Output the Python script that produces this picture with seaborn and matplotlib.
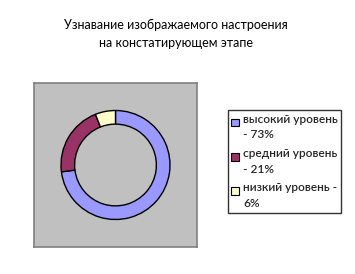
import matplotlib
matplotlib.use("Agg")
import matplotlib.pyplot as plt
import seaborn as sns
from matplotlib.patches import Patch, Rectangle
from matplotlib.legend_handler import HandlerPatch

categories = ["высокий уровень", "средний уровень", "низкий уровень"]
values = [73, 21, 6]
legend_labels = ["высокий уровень\n- 73%", "средний уровень\n- 21%", "низкий уровень -\n6%"]
colors = ["#9999FF", "#993366", "#FFFFCC"]
title = "Узнавание изображаемого настроения\nна констатирующем этапе"

sns.set_theme(style="white")
plt.rcParams["font.family"] = ["Lato", "DejaVu Sans"]

W, H = 355, 274
fig = plt.figure(figsize=(W / 100, H / 100), dpi=100)
fig.patch.set_facecolor("white")

# plot area
l, r, t, b = 34, 197, 83, 247
ax = fig.add_axes([l / W, 1 - b / H, (r - l) / W, (b - t) / H])
ax.set_facecolor("#C0C0C0")

palette = sns.color_palette(colors)
ax.pie(values, colors=palette, startangle=90, counterclock=False, radius=1.0,
       wedgeprops=dict(width=0.25, edgecolor="black", linewidth=1.0), frame=True)
R = 54.5
ax.set_xlim(-(r - l) / 2 / R, (r - l) / 2 / R)
ax.set_ylim(-(b - t) / 2 / R, (b - t) / 2 / R)
ax.set_aspect("equal", adjustable="box")
ax.set_xticks([])
ax.set_yticks([])
for s in ax.spines.values():
    s.set_visible(True)
    s.set_color("#808080")
    s.set_linewidth(1.2)

fig.text(176 / W, 1 - 34 / H, title, ha="center", va="center", fontsize=9.0,
         linespacing=1.6, color="black")


class TopSquare(HandlerPatch):
    def _create_patch(self, legend, orig_handle, xdescent, ydescent,
                      width, height, fontsize):
        s = 0.65 * fontsize
        return Rectangle((-xdescent, -ydescent + height - s - 0.1 * fontsize), s, s)


handles = [Patch(facecolor=c, edgecolor="black", linewidth=0.8) for c in palette]
leg = fig.legend(handles, legend_labels, loc="upper left",
                 bbox_to_anchor=(227.5 / W, 1 - 110 / H),
                 prop=dict(size=8.6, weight="semibold"),
                 handler_map={Patch: TopSquare()},
                 frameon=True, fancybox=False, handlelength=0.7, handleheight=2.3,
                 handletextpad=0.3, borderpad=0.3, labelspacing=0.65,
                 borderaxespad=0, alignment="left")
leg.get_frame().set_edgecolor("black")
leg.get_frame().set_linewidth(1.0)
for txt in leg.get_texts():
    txt.set_linespacing(1.52)

fig.savefig("out.png", dpi=100, facecolor="white")
